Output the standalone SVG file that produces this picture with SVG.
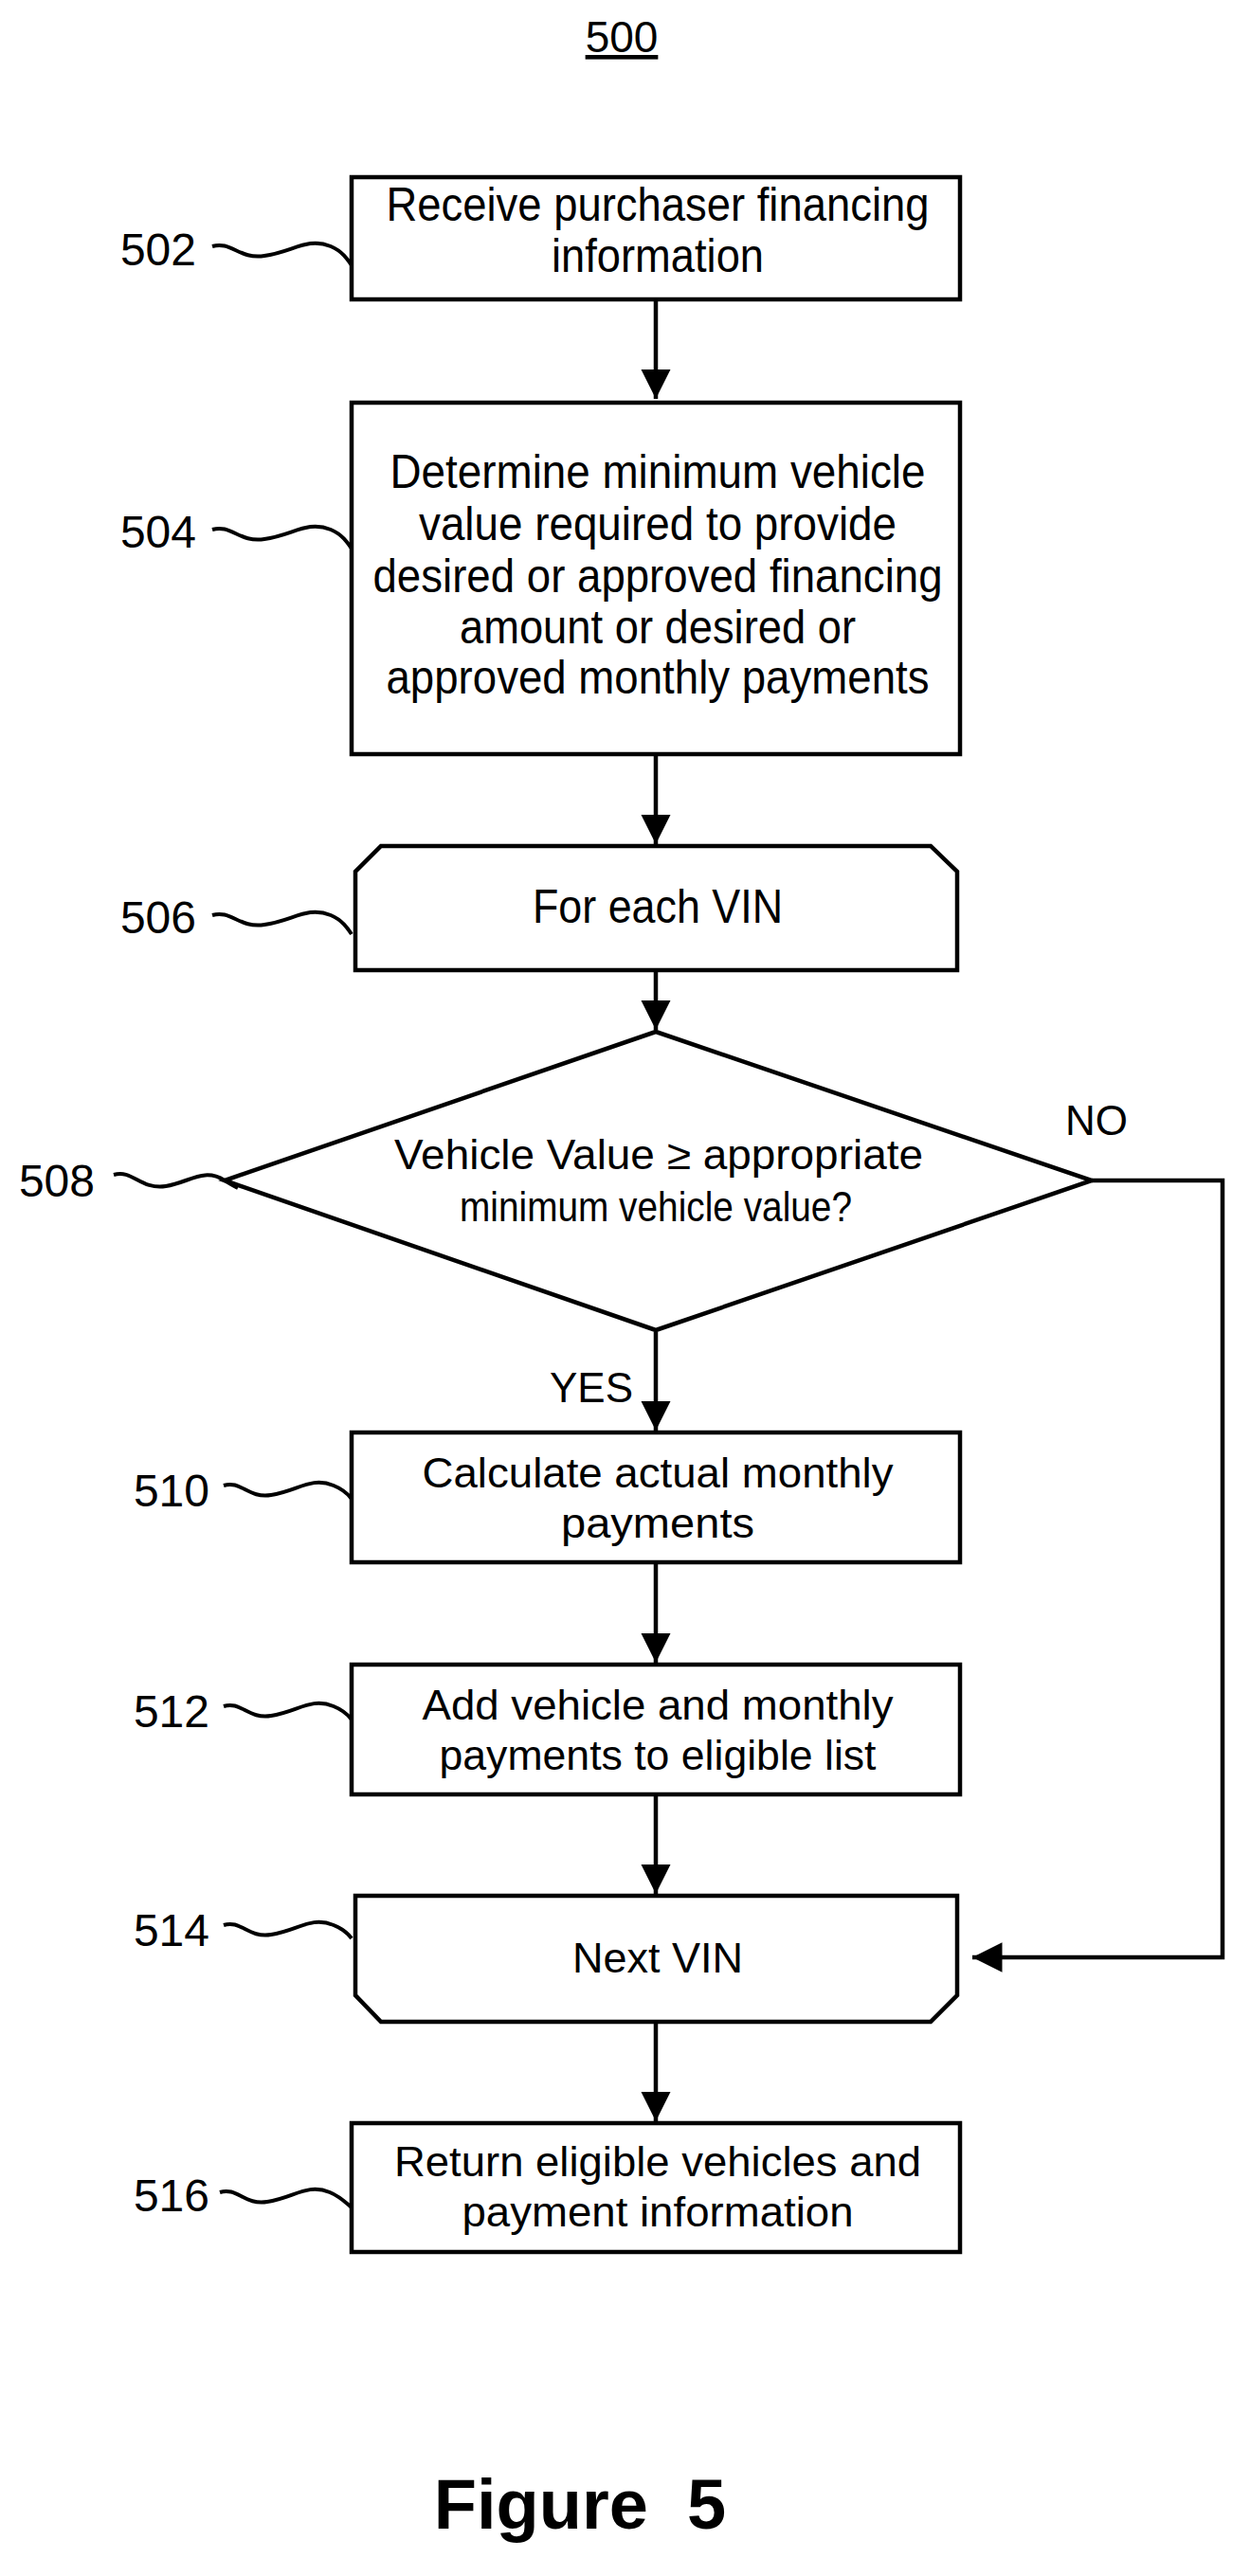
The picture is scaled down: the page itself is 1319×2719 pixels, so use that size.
<svg xmlns="http://www.w3.org/2000/svg" width="1319" height="2719" viewBox="0 0 1319 2719">
<style>
.s{fill:#fff;stroke:#000;stroke-width:4.5}
.c{fill:none;stroke:#000;stroke-width:4.5}
.w{fill:none;stroke:#000;stroke-width:4}
.t{font-family:"Liberation Sans",Arial,sans-serif;font-size:50px;text-anchor:middle;fill:#000}
.u{font-family:"Liberation Sans",Arial,sans-serif;font-size:44px;text-anchor:middle;fill:#000}
.l{font-family:"Liberation Sans",Arial,sans-serif;font-size:48px;text-anchor:end;fill:#000}
</style>
<defs>
<marker id="a" viewBox="0 0 10 10" refX="10" refY="5" markerWidth="7" markerHeight="7" markerUnits="strokeWidth" orient="auto"><path d="M0,0 L10,5 L0,10 z" fill="#000"/></marker>
</defs>
<text x="656" y="55" class="t" style="font-size:46px" text-decoration="underline">500</text>
<g id="connectors">
<line x1="692" y1="316" x2="692" y2="421" class="c" marker-end="url(#a)"/>
<line x1="692" y1="796" x2="692" y2="891" class="c" marker-end="url(#a)"/>
<line x1="692" y1="1026" x2="692" y2="1087" class="c" marker-end="url(#a)"/>
<line x1="692" y1="1406" x2="692" y2="1510" class="c" marker-end="url(#a)"/>
<line x1="692" y1="1651" x2="692" y2="1755" class="c" marker-end="url(#a)"/>
<line x1="692" y1="1896" x2="692" y2="1999" class="c" marker-end="url(#a)"/>
<line x1="692" y1="2136" x2="692" y2="2239" class="c" marker-end="url(#a)"/>
<polyline points="1152,1246 1290,1246 1290,2066 1026,2066" class="c" marker-end="url(#a)"/>
<text x="1157" y="1198" class="u">NO</text>
<text x="668" y="1480" class="l" style="font-size:44px">YES</text>
</g>
<g id="n502">
<rect x="371" y="187" width="642" height="129" class="s"/>
<text x="694" y="233" class="t" textLength="573" lengthAdjust="spacingAndGlyphs">Receive purchaser financing</text>
<text x="694" y="287" class="t" textLength="224" lengthAdjust="spacingAndGlyphs">information</text>
<text x="207" y="280" class="l">502</text>
<path d="M224,260 c20,-6 28,14 55,10 c30,-4 45,-20 70,-10 c12,5 18,14 22,20" class="w"/>
</g>
<g id="n504">
<rect x="371" y="425" width="642" height="371" class="s"/>
<text x="694" y="515" class="t" textLength="565" lengthAdjust="spacingAndGlyphs">Determine minimum vehicle</text>
<text x="694" y="570" class="t" textLength="504" lengthAdjust="spacingAndGlyphs">value required to provide</text>
<text x="694" y="625" class="t" textLength="601" lengthAdjust="spacingAndGlyphs">desired or approved financing</text>
<text x="694" y="679" class="t" textLength="418" lengthAdjust="spacingAndGlyphs">amount or desired or</text>
<text x="694" y="732" class="t" textLength="573" lengthAdjust="spacingAndGlyphs">approved monthly payments</text>
<text x="207" y="578" class="l">504</text>
<path d="M224,559 c20,-6 28,14 55,10 c30,-4 45,-20 70,-10 c12,5 18,14 22,20" class="w"/>
</g>
<g id="n506">
<polygon points="402,893 982,893 1010,920 1010,1024 375,1024 375,920" class="s"/>
<text x="694" y="974" class="t" textLength="264" lengthAdjust="spacingAndGlyphs">For each VIN</text>
<text x="207" y="985" class="l">506</text>
<path d="M224,966 c20,-6 28,14 55,10 c30,-4 45,-20 70,-10 c12,5 18,14 22,20" class="w"/>
</g>
<g id="n508">
<polygon points="692,1089 1152,1246 692,1404 237,1246" class="s"/>
<text x="695" y="1234" class="u" textLength="558" lengthAdjust="spacingAndGlyphs">Vehicle Value ≥ appropriate</text>
<text x="692" y="1289" class="u" textLength="414" lengthAdjust="spacingAndGlyphs">minimum vehicle value?</text>
<text x="100" y="1263" class="l">508</text>
<path d="M120,1240 c20,-6 28,16 55,12 c25,-4 40,-20 62,-6 c5,3 10,6 14,8" class="w"/>
</g>
<g id="n510">
<rect x="371" y="1512" width="642" height="137" class="s"/>
<text x="694" y="1570" class="u" textLength="497" lengthAdjust="spacingAndGlyphs">Calculate actual monthly</text>
<text x="694" y="1623" class="u" textLength="204" lengthAdjust="spacingAndGlyphs">payments</text>
<text x="221" y="1590" class="l">510</text>
<path d="M236,1568 c18,-6 26,14 50,10 c28,-4 42,-20 66,-10 c10,4 16,10 19,14" class="w"/>
</g>
<g id="n512">
<rect x="371" y="1757" width="642" height="137" class="s"/>
<text x="694" y="1815" class="u" textLength="497" lengthAdjust="spacingAndGlyphs">Add vehicle and monthly</text>
<text x="694" y="1868" class="u" textLength="461" lengthAdjust="spacingAndGlyphs">payments to eligible list</text>
<text x="221" y="1823" class="l">512</text>
<path d="M236,1801 c18,-6 26,14 50,10 c28,-4 42,-20 66,-10 c10,4 16,10 19,14" class="w"/>
</g>
<g id="n514">
<polygon points="375,2001 1010,2001 1010,2106 982,2134 402,2134 375,2106" class="s"/>
<text x="694" y="2082" class="u" textLength="180" lengthAdjust="spacingAndGlyphs">Next VIN</text>
<text x="221" y="2054" class="l">514</text>
<path d="M236,2032 c18,-6 26,14 50,10 c28,-4 42,-20 66,-10 c10,4 16,10 19,14" class="w"/>
</g>
<g id="n516">
<rect x="371" y="2241" width="642" height="136" class="s"/>
<text x="694" y="2297" class="u" textLength="556" lengthAdjust="spacingAndGlyphs">Return eligible vehicles and</text>
<text x="694" y="2350" class="u" textLength="413" lengthAdjust="spacingAndGlyphs">payment information</text>
<text x="221" y="2334" class="l">516</text>
<path d="M232,2314 c18,-6 26,14 50,10 c28,-4 42,-20 66,-10 c10,4 16,10 23,16" class="w"/>
</g>
<text x="612" y="2669" class="t" style="font-size:74px;font-weight:bold" xml:space="preserve">Figure  5</text>
</svg>
